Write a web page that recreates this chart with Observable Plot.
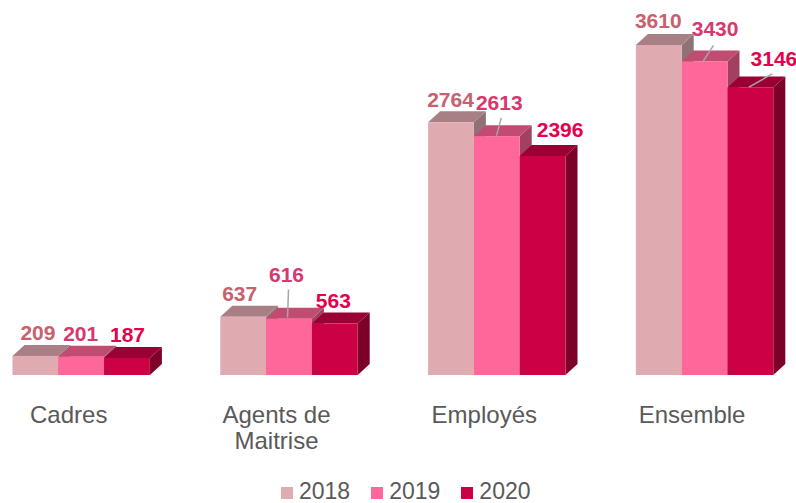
<!DOCTYPE html>
<html>
<head>
<meta charset="utf-8">
<script src="https://cdn.jsdelivr.net/npm/d3@7"></script>
<script src="https://cdn.jsdelivr.net/npm/@observablehq/plot@0.6"></script>
<style>
  html, body { margin: 0; padding: 0; background: #fff; overflow: hidden; }
  body { position: relative; width: 796px; height: 503px; font-family: "Liberation Sans", Arial, sans-serif; }
  #legend { position: absolute; left: 281px; top: 483px; display: flex; align-items: baseline;
            font-size: 23px; line-height: 16px; color: #595959; }
  #legend .item { display: flex; align-items: baseline; margin-right: 21px; }
  #legend .sw { display: inline-block; width: 12px; height: 12px; margin-right: 6px; }
</style>
</head>
<body>
<div id="chart"></div>
<div id="legend"></div>
<script>
// ---- data ----
const categories = ["Cadres", "Agents de\nMaitrise", "Employés", "Ensemble"];
const years = ["2018", "2019", "2020"];
const values2018 = [209, 637, 2764, 3610];
const values2019 = [201, 616, 2613, 3430];
const values2020 = [187, 563, 2396, 3146];

// ---- styles ----
const frontColors = ["#DFAAB0", "#FF6699", "#CC0044"];
const topColors   = ["#A87F84", "#C24B72", "#990033"];
const sideColors  = ["#8E7276", "#A3405F", "#7D0029"];
const labelColors = ["#C8606E", "#D8386E", "#E6004D"];

// ---- layout ----
const W = 45.8;                 // px per bar
const X0 = 12.5;                // px of first bar's left edge
const STEP = 207.8 / W;         // category step, in bar units
const K = 330 / 3610;           // px per value unit
const DX = 12 / W, DY = 11 / K; // 3D depth in data units
// label nudges in px [dx, dy(down)] per year, per category
const labelNudge = [
  [[2, 0], [-4, 0], [-1, 0], [-1, -2]],
  [[-1, 0], [-3, -21], [2, -11], [10, -10]],
  [[0, 0], [-2, 0], [17, -3], [23, -6]]
];
// leader lines: [category, year, fromDx, fromUp, toDx, toUp] (px, relative to front-top centre)
const leaderSpec = [
  [1, 1, -2, 1.7, -1, 29.7],
  [2, 1, -0.8, 1, 3.9, 18.8],
  [3, 1, -1.9, 0.8, 8.4, 16.5],
  [3, 2, -2, 0.7, 21.3, 14.1]
];

const series = [values2018, values2019, values2020];
const rows = categories.flatMap((c, ci) => years.map((yr, yi) => ({
  c, ci, yr, yi, v: series[yi][ci],
  l: ci * STEP + yi, r: ci * STEP + yi + 1, key: ci + "-" + yi
})));
const sideData = rows.flatMap(d => [0, 1].map(t => ({...d, sx: d.r + t * DX, sy1: t * DY, sy2: d.v + t * DY})));
const topData = rows.flatMap(d => [0, 1].map(t => ({...d, ty: d.v + t * DY, tx1: d.l + t * DX, tx2: d.r + t * DX})));
const leaders = leaderSpec.map(([ci, yi, fdx, fup, tdx, tup]) => {
  const d = rows.find(r => r.ci === ci && r.yi === yi);
  return {x1: d.l + 0.5 + fdx / W, y1: d.v + fup / K, x2: d.l + 0.5 + tdx / W, y2: d.v + tup / K};
});

const marks = [];
years.forEach((yr, yi) => marks.push(Plot.areaY(sideData.filter(d => d.yi === yi),
  {x: "sx", y1: "sy1", y2: "sy2", z: "key", fill: sideColors[yi]})));
years.forEach((yr, yi) => marks.push(Plot.areaX(topData.filter(d => d.yi === yi),
  {y: "ty", x1: "tx1", x2: "tx2", z: "key", fill: topColors[yi]})));
years.forEach((yr, yi) => marks.push(Plot.rect(rows.filter(d => d.yi === yi),
  {x1: "l", x2: "r", y1: 0, y2: "v", fill: frontColors[yi]})));
marks.push(Plot.link(leaders, {x1: "x1", y1: "y1", x2: "x2", y2: "y2", stroke: "#A6A6A6", strokeWidth: 1.5}));
years.forEach((yr, yi) => marks.push(Plot.text(rows.filter(d => d.yi === yi), {
  x: d => d.l + 0.5 + labelNudge[yi][d.ci][0] / W,
  y: d => d.v + DY + (5 - labelNudge[yi][d.ci][1]) / K,
  text: d => String(d.v),
  fill: labelColors[yi], fontSize: 21, fontWeight: "bold", lineAnchor: "bottom"
})));
marks.push(Plot.text(categories.map((c, ci) => ({c, ci})), {
  x: d => d.ci * STEP + 1.5, y: 0, text: "c", dx: -13, dy: 28,
  lineAnchor: "top", fontSize: 24, lineHeight: 1.12, fill: "#595959"
}));

const chart = Plot.plot({
  width: 796, height: 478, margin: 0,
  x: {domain: [-X0 / W, (796 - X0) / W], range: [0, 796], axis: null},
  y: {domain: [0, 375 / K], range: [375, 0], axis: null},
  style: {fontFamily: "'Liberation Sans', Arial, sans-serif", background: "transparent"},
  marks
});
document.getElementById("chart").appendChild(chart);

const legend = document.getElementById("legend");
years.forEach((yr, yi) => {
  const item = document.createElement("span");
  item.className = "item";
  const sw = document.createElement("span");
  sw.className = "sw";
  sw.style.background = frontColors[yi];
  item.appendChild(sw);
  item.appendChild(document.createTextNode(yr));
  legend.appendChild(item);
});
</script>
</body>
</html>
